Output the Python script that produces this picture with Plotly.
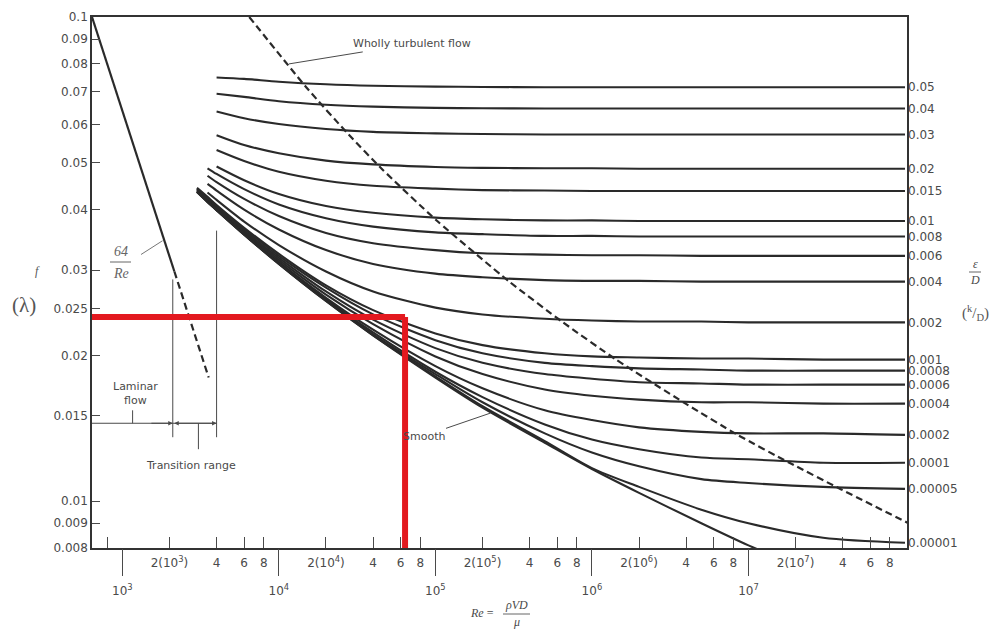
import numpy as np
import plotly.graph_objects as go

# ---------------- data ----------------
re_grid = [3000, 3500, 4000, 6000, 1e4, 2e4, 4e4, 1e5, 2e5, 5e5, 1e6, 2e6, 5e6, 1e7, 3e7, 1e8]

eps_labels = ["0.05", "0.04", "0.03", "0.02", "0.015", "0.01", "0.008", "0.006", "0.004",
              "0.002", "0.001", "0.0008", "0.0006", "0.0004", "0.0002", "0.0001", "0.00005", "0.00001"]

f_005 = [None, None, 0.0750, 0.0745, 0.0735, 0.0726, 0.0721, 0.0718, 0.0717, 0.0716, 0.0716, 0.0716, 0.0716, 0.0716, 0.0716, 0.0716]
f_004 = [None, None, 0.0694, 0.0684, 0.0670, 0.0659, 0.0653, 0.0649, 0.0648, 0.0647, 0.0647, 0.0647, 0.0647, 0.0647, 0.0647, 0.0647]
f_003 = [None, None, 0.0638, 0.0618, 0.0601, 0.0587, 0.0579, 0.0575, 0.0573, 0.0572, 0.0572, 0.0572, 0.0572, 0.0572, 0.0572, 0.0572]
f_002 = [None, None, 0.0570, 0.0544, 0.0523, 0.0505, 0.0496, 0.0490, 0.0488, 0.0487, 0.0487, 0.0486, 0.0486, 0.0486, 0.0486, 0.0486]
f_0015 = [None, None, 0.0531, 0.0504, 0.0479, 0.0459, 0.0448, 0.0442, 0.0439, 0.0438, 0.0437, 0.0437, 0.0437, 0.0437, 0.0437, 0.0437]
f_001 = [None, None, 0.0491, 0.0460, 0.0431, 0.0407, 0.0394, 0.0385, 0.0382, 0.0380, 0.0380, 0.0379, 0.0379, 0.0379, 0.0379, 0.0379]
f_0008 = [None, 0.0487, 0.0474, 0.0441, 0.0410, 0.0384, 0.0369, 0.0359, 0.0356, 0.0353, 0.0353, 0.0352, 0.0352, 0.0352, 0.0352, 0.0352]
f_0006 = [None, 0.0470, 0.0456, 0.0421, 0.0388, 0.0358, 0.0341, 0.0330, 0.0325, 0.0323, 0.0322, 0.0322, 0.0321, 0.0321, 0.0321, 0.0321]
f_0004 = [None, 0.0452, 0.0438, 0.0400, 0.0364, 0.0330, 0.0309, 0.0295, 0.0290, 0.0286, 0.0285, 0.0285, 0.0284, 0.0284, 0.0284, 0.0284]
f_0002 = [None, 0.0434, 0.0419, 0.0378, 0.0338, 0.0298, 0.0271, 0.0251, 0.0243, 0.0238, 0.0236, 0.0235, 0.0235, 0.0234, 0.0234, 0.0234]
f_0001 = [0.0444, 0.0425, 0.0409, 0.0367, 0.0324, 0.0279, 0.0248, 0.0222, 0.0210, 0.0202, 0.0199, 0.0198, 0.0197, 0.0197, 0.0196, 0.0196]
f_00008 = [0.0442, 0.0423, 0.0407, 0.0365, 0.0321, 0.0276, 0.0243, 0.0215, 0.0202, 0.0193, 0.0190, 0.0188, 0.0187, 0.0186, 0.0186, 0.0186]
f_00006 = [0.0441, 0.0421, 0.0405, 0.0362, 0.0318, 0.0271, 0.0237, 0.0207, 0.0193, 0.0183, 0.0179, 0.0176, 0.0175, 0.0174, 0.0174, 0.0174]
f_00004 = [0.0439, 0.0419, 0.0403, 0.0360, 0.0315, 0.0267, 0.0232, 0.0199, 0.0183, 0.0170, 0.0165, 0.0162, 0.0160, 0.0160, 0.0159, 0.0159]
f_00002 = [0.0437, 0.0417, 0.0401, 0.0358, 0.0312, 0.0263, 0.0226, 0.0190, 0.0171, 0.0154, 0.0147, 0.0142, 0.0139, 0.0138, 0.0138, 0.0137]
f_00001 = [0.0436, 0.0416, 0.0400, 0.0356, 0.0310, 0.0261, 0.0223, 0.0185, 0.0164, 0.0144, 0.0134, 0.0128, 0.0123, 0.0122, 0.0120, 0.0120]
f_000005 = [0.0436, 0.0415, 0.0399, 0.0356, 0.0310, 0.0260, 0.0221, 0.0183, 0.0160, 0.0138, 0.0126, 0.0118, 0.0111, 0.0109, 0.0107, 0.0106]
f_000001 = [0.0435, 0.0415, 0.0399, 0.0355, 0.0309, 0.0259, 0.0220, 0.0181, 0.0157, 0.0133, 0.0117, 0.0107, 0.0096, 0.0090, 0.0084, 0.0082]

rough_curves = [f_005, f_004, f_003, f_002, f_0015, f_001, f_0008, f_0006, f_0004, f_0002,
                f_0001, f_00008, f_00006, f_00004, f_00002, f_00001, f_000005, f_000001]

smooth_re = [3000, 3500, 4000, 6000, 1e4, 2e4, 4e4, 1e5, 2e5, 5e5, 1e6, 2e6, 5e6, 1e7, 1.2e7]
smooth_f = [0.0435, 0.0415, 0.0399, 0.0355, 0.0309, 0.0259, 0.0220, 0.0180, 0.0156, 0.0132, 0.01165, 0.0104, 0.0090, 0.0081, 0.0079]

laminar_re = [640, 2150]
laminar_f = [0.1, 0.0298]
laminar_dash_re = [2150, 3560]
laminar_dash_f = [0.0298, 0.0180]

wholly_re = [6470, 14950, 27870, 45350, 102700, 296600, 653500, 1.427e6, 3.966e6, 8.53e6, 1.826e7, 3.89e7, 1.054e8]
wholly_f = [0.1, 0.0716, 0.0572, 0.0486, 0.0379, 0.0284, 0.0234, 0.0196, 0.0159, 0.0137, 0.0120, 0.01058, 0.0090]

red_re = 6.4e4
red_f = 0.0240

trans_re = [2100, 4000]          # transition range limits
trans_top_f = [0.0287, 0.0362]
trans_bot_f = 0.01355
arrow_f = 0.01448

y_tick_vals = [0.008, 0.009, 0.01, 0.015, 0.02, 0.025, 0.03, 0.04, 0.05, 0.06, 0.07, 0.08, 0.09, 0.1]
y_tick_text = ["0.008", "0.009", "0.01", "0.015", "0.02", "0.025", "0.03", "0.04", "0.05", "0.06", "0.07", "0.08", "0.09", "0.1"]

x_major_vals = [1e3, 1e4, 1e5, 1e6, 1e7]
x_major_text = ["10<sup>3</sup>", "10<sup>4</sup>", "10<sup>5</sup>", "10<sup>6</sup>", "10<sup>7</sup>"]
x_minor_vals = [800]
x_minor_text = [" "]
for d in [3, 4, 5, 6, 7]:
    for m in [2, 4, 6, 8]:
        x_minor_vals.append(m * 10 ** d)
        x_minor_text.append("2(10<sup>%d</sup>)" % d if m == 2 else str(m))

X_MIN, X_MAX = 640, 1.03e8
Y_MIN, Y_MAX = 0.008, 0.1

# ---------------- layout geometry ----------------
OFF = 8                      # page body margin of the html page
W, H = 997 - OFF, 630 - OFF
L, R, T, B = 92 - OFF, 90, 17 - OFF, 82
PW, PH = W - L - R, H - T - B


def px(x):
    return (x - OFF - L) / PW


def py(y):
    return (OFF + H - B - y) / PH


INK = "#2a2a2a"
GREY = "#4a4a4a"
FONT = "DejaVu Sans, Liberation Sans, Arial, sans-serif"
SERIF = "Liberation Serif, DejaVu Serif, serif"

fig = go.Figure()

for fvals in rough_curves:
    fig.add_trace(go.Scatter(x=re_grid, y=fvals, mode="lines",
                             line=dict(color=INK, width=2.1, shape="spline", smoothing=0.8),
                             showlegend=False, hoverinfo="skip"))
fig.add_trace(go.Scatter(x=smooth_re, y=smooth_f, mode="lines",
                         line=dict(color=INK, width=2.1, shape="spline", smoothing=0.8),
                         showlegend=False, hoverinfo="skip"))
fig.add_trace(go.Scatter(x=laminar_re, y=laminar_f, mode="lines",
                         line=dict(color=INK, width=2.2), showlegend=False, hoverinfo="skip"))
fig.add_trace(go.Scatter(x=laminar_dash_re, y=laminar_dash_f, mode="lines",
                         line=dict(color=INK, width=2.2, dash="7px,4px"), showlegend=False, hoverinfo="skip"))
fig.add_trace(go.Scatter(x=wholly_re, y=wholly_f, mode="lines",
                         line=dict(color=INK, width=2.2, dash="7px,4px", shape="spline", smoothing=0.6),
                         showlegend=False, hoverinfo="skip"))

# transition range vertical lines
for r_, ft in zip(trans_re, trans_top_f):
    fig.add_trace(go.Scatter(x=[r_, r_], y=[ft, trans_bot_f], mode="lines",
                             line=dict(color=GREY, width=1), showlegend=False, hoverinfo="skip"))
# laminar-flow and transition leaders
fig.add_trace(go.Scatter(x=[X_MIN, trans_re[1]], y=[arrow_f, arrow_f], mode="lines",
                         line=dict(color=GREY, width=1), showlegend=False, hoverinfo="skip"))
fig.add_trace(go.Scatter(x=[1163, 1163], y=[0.0154, arrow_f], mode="lines",
                         line=dict(color=GREY, width=1), showlegend=False, hoverinfo="skip"))
fig.add_trace(go.Scatter(x=[3062, 3062], y=[arrow_f, 0.0128], mode="lines",
                         line=dict(color=GREY, width=1), showlegend=False, hoverinfo="skip"))

# red reading lines
fig.add_trace(go.Scatter(x=[X_MIN, red_re], y=[red_f, red_f], mode="lines",
                         line=dict(color="#e3191f", width=6), showlegend=False, hoverinfo="skip"))
fig.add_trace(go.Scatter(x=[red_re, red_re], y=[red_f, Y_MIN], mode="lines",
                         line=dict(color="#e3191f", width=6), showlegend=False, hoverinfo="skip"))

# invisible helpers for the overlaying axes
fig.add_trace(go.Scatter(x=[1e4], y=[0.02], xaxis="x2", mode="markers", marker=dict(opacity=0),
                         showlegend=False, hoverinfo="skip"))
fig.add_trace(go.Scatter(x=[1e4], y=[0.02], yaxis="y2", mode="markers", marker=dict(opacity=0),
                         showlegend=False, hoverinfo="skip"))

right_vals = [c[-1] for c in rough_curves]

lg = np.log10
fig.update_layout(
    width=W, height=H,
    margin=dict(l=L, r=R, t=T, b=B, autoexpand=False),
    paper_bgcolor="white", plot_bgcolor="white",
    font=dict(family=FONT, color=GREY, size=12),
    xaxis=dict(type="log", range=[lg(X_MIN), lg(X_MAX)], tickvals=x_minor_vals, ticktext=x_minor_text,
               ticks="inside", ticklen=11, tickwidth=1.2, tickcolor=GREY, showgrid=False, zeroline=False,
               showline=True, linecolor="#333", linewidth=1.6, mirror=True,
               tickfont=dict(size=12, color=GREY), ticklabelstandoff=3),
    xaxis2=dict(type="log", range=[lg(X_MIN), lg(X_MAX)], overlaying="x", side="bottom", anchor="y",
                tickvals=x_major_vals, ticktext=x_major_text, ticks="outside", ticklen=27, tickwidth=1.4,
                tickcolor=GREY, showgrid=False, zeroline=False, showline=False,
                tickfont=dict(size=12, color=GREY), ticklabelstandoff=5),
    yaxis=dict(type="log", range=[lg(Y_MIN), lg(Y_MAX)], tickvals=y_tick_vals, ticktext=y_tick_text,
               ticks="inside", ticklen=8, tickwidth=1.2, tickcolor=GREY, showgrid=False, zeroline=False,
               showline=True, linecolor="#333", linewidth=1.6, mirror=True,
               tickfont=dict(size=12, color=GREY)),
    yaxis2=dict(type="log", range=[lg(Y_MIN), lg(Y_MAX)], overlaying="y", side="right", anchor="x",
                tickvals=right_vals, ticktext=eps_labels, ticks="", showgrid=False, zeroline=False,
                showline=False, tickfont=dict(size=12, color=GREY)),
)

ann = []
# leaders with text
ann.append(dict(x=lg(11600), y=lg(0.080), xref="x", yref="y", text="Wholly turbulent flow",
                showarrow=True, arrowhead=0, arrowwidth=1, arrowcolor=GREY, ax=123, ay=-20,
                font=dict(size=11, color=GREY)))
ann.append(dict(x=lg(2.25e5), y=lg(0.0152), xref="x", yref="y", text="Smooth",
                showarrow=True, arrowhead=0, arrowwidth=1, arrowcolor=GREY, ax=-67, ay=23,
                font=dict(size=11, color=GREY)))
ann.append(dict(x=lg(1806), y=lg(0.0345), xref="x", yref="y", text=" ",
                showarrow=True, arrowhead=0, arrowwidth=1, arrowcolor="#777", ax=-25, ay=16))
# arrows along the laminar / transition line
ann.append(dict(x=lg(trans_re[0]), y=lg(arrow_f), xref="x", yref="y", ax=lg(1500), ay=lg(arrow_f),
                axref="x", ayref="y", text="", showarrow=True, arrowhead=2, arrowsize=0.9,
                arrowwidth=1, arrowcolor=GREY))
ann.append(dict(x=lg(trans_re[1]), y=lg(arrow_f), xref="x", yref="y", ax=lg(trans_re[0]), ay=lg(arrow_f),
                axref="x", ayref="y", text="", showarrow=True, arrowhead=2, arrowside="end+start",
                arrowsize=0.9, arrowwidth=1, arrowcolor=GREY))


def txt(x, y, s, size=12, color=GREY, family=FONT, xanchor="center"):
    ann.append(dict(x=px(x), y=py(y), xref="paper", yref="paper", text=s, showarrow=False,
                    xanchor=xanchor, yanchor="middle", font=dict(size=size, color=color, family=family)))


txt(135, 393, "Laminar<br>flow", size=11)
txt(191, 466, "Transition range", size=11)
# 64/Re handwritten note
txt(121, 252, "<i>64</i>", size=14, color="#666", family=SERIF)
txt(121, 273, "<i>Re</i>", size=14, color="#666", family=SERIF)
# left axis symbols
txt(38, 271, "<i>f</i>", size=12, color="#555", family=SERIF)
txt(24, 305, "(λ)", size=21, color="#555", family=SERIF)
# right axis symbols
txt(975, 264, "<i>ε</i>", size=12, color=GREY, family=SERIF)
txt(975, 280, "<i>D</i>", size=12, color=GREY, family=SERIF)
txt(975, 313, "(<sup>k</sup>/<sub>D</sub>)", size=15, color="#555", family=SERIF)
# x-axis title
txt(482, 613, "<i>Re</i> =", size=12, color=GREY, family=SERIF)
txt(516, 605, "<i>ρVD</i>", size=12, color=GREY, family=SERIF)
txt(516, 622, "<i>μ</i>", size=12, color=GREY, family=SERIF)
fig.update_layout(annotations=ann)

# fraction bars
bars = [(110, 131, 262), (969, 981, 272), (503, 530, 614)]
for x0, x1, yy in bars:
    fig.add_shape(type="line", xref="paper", yref="paper", x0=px(x0), x1=px(x1), y0=py(yy), y1=py(yy),
                  line=dict(color="#666", width=1))

fig.write_html("out.html")
